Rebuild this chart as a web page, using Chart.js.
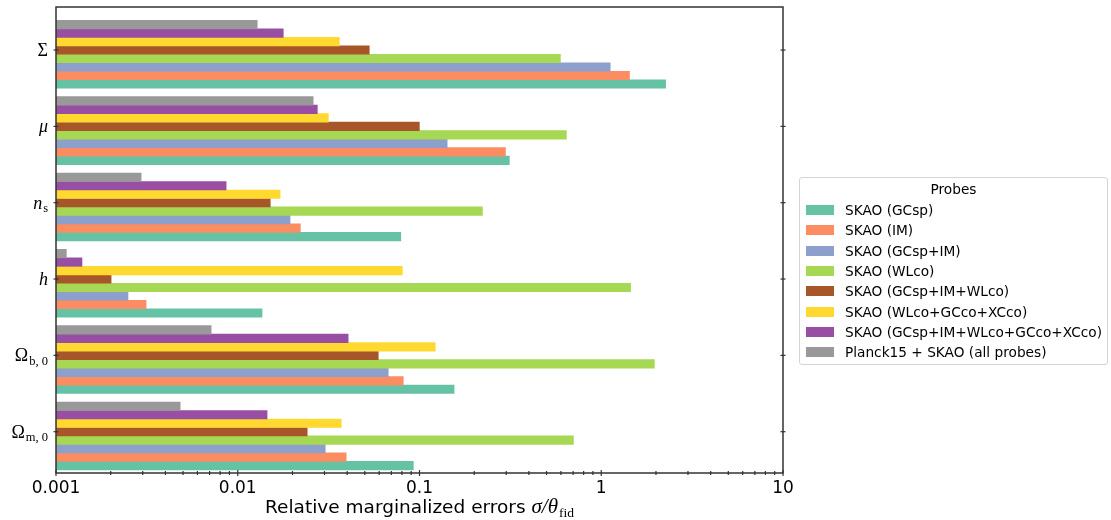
<!DOCTYPE html>
<html>
<head>
<meta charset="utf-8">
<script src="https://cdn.jsdelivr.net/npm/chart.js@4.4.1/dist/chart.umd.min.js"></script>
<style>
  html, body { margin: 0; padding: 0; background: #fff; }
  #wrap { position: relative; width: 1111px; height: 520px; }
  #legend {
    position: absolute; left: 799px; top: 177px; width: 309px; height: 188px;
    box-sizing: border-box; border: 1px solid #d4d4d4; border-radius: 3px;
    font-family: "DejaVu Sans", sans-serif; font-size: 13.7px; color: #000;
  }
  #legend .title { position: absolute; left: 0; right: 0; top: 2px; text-align: center; line-height: 18px; }
  #legend .row { position: absolute; left: 6px; height: 18px; line-height: 18px; white-space: nowrap; }
  #legend .sw { display: inline-block; width: 28px; height: 10px; vertical-align: middle; margin-right: 11px; position: relative; top: -1px; }
</style>
</head>
<body>
<div id="wrap">
  <canvas id="chart" width="1111" height="520"></canvas>
  <div id="legend"></div>
</div>
<script>
// parameters, top to bottom
const categories = ['Sigma', 'mu', 'n_s', 'h', 'Omega_b0', 'Omega_m0'];
const tickMain = ['Σ', 'μ', 'n', 'h', 'Ω', 'Ω'];
const tickSub = ['', '', 's', '', 'b, 0', 'm, 0'];

// x axis decades
const xTickValues = [0.001, 0.01, 0.1, 1, 10];
const xTickLabels = ['0.001', '0.01', '0.1', '1', '10'];

// relative marginalized errors per probe combination
const gcsp         = [2.26, 0.312, 0.0789, 0.0136, 0.155, 0.0925];
const im           = [1.43, 0.297, 0.0221, 0.00313, 0.0814, 0.0395];
const gcspIm       = [1.12, 0.142, 0.0194, 0.00249, 0.0673, 0.0303];
const wlco         = [0.596, 0.643, 0.222, 1.45, 1.96, 0.703];
const gcspImWlco   = [0.0529, 0.0998, 0.0151, 0.00201, 0.0593, 0.0241];
const wlcoGccoXcco = [0.0362, 0.0315, 0.0171, 0.0804, 0.122, 0.0371];
const allSkao      = [0.0178, 0.0274, 0.00863, 0.00139, 0.0405, 0.0145];
const planckSkao   = [0.0128, 0.026, 0.00294, 0.00114, 0.00714, 0.00482];

const probeNames = [
  'SKAO (GCsp)', 'SKAO (IM)', 'SKAO (GCsp+IM)', 'SKAO (WLco)',
  'SKAO (GCsp+IM+WLco)', 'SKAO (WLco+GCco+XCco)',
  'SKAO (GCsp+IM+WLco+GCco+XCco)', 'Planck15 + SKAO (all probes)'
];
const probeValues = [gcsp, im, gcspIm, wlco, gcspImWlco, wlcoGccoXcco, allSkao, planckSkao];
const probeColors = ['#66c2a5', '#fc8d62', '#8da0cb', '#a6d854', '#a65628', '#ffd92f', '#984ea3', '#999999'];

// first dataset is an empty slot, so each group sits like the matplotlib offsets
const datasets = [{
  label: '',
  data: categories.map((c, i) => ({ x: null, y: i })),
  backgroundColor: 'rgba(0,0,0,0)'
}];
for (let k = probeNames.length - 1; k >= 0; k--) {
  datasets.push({
    label: probeNames[k],
    data: probeValues[k].map((v, i) => ({ x: v, y: i })),
    backgroundColor: probeColors[k]
  });
}

function line(ctx, x1, y1, x2, y2) {
  ctx.beginPath(); ctx.moveTo(x1, y1); ctx.lineTo(x2, y2); ctx.stroke();
}

const framePlugin = {
  id: 'frame',
  afterDraw(chart) {
    const { ctx, chartArea: a, scales: { x, y } } = chart;
    ctx.save();
    ctx.strokeStyle = '#333';
    ctx.lineWidth = 1.5;
    ctx.strokeRect(a.left, a.top, a.right - a.left, a.bottom - a.top);

    // ticks
    ctx.lineWidth = 1.2;
    categories.forEach((c, i) => {
      const py = y.getPixelForValue(i);
      line(ctx, a.left - 2.5, py, a.left + 2.5, py);
      line(ctx, a.right - 2.5, py, a.right + 2.5, py);
    });
    xTickValues.forEach((v, i) => {
      const px = x.getPixelForValue(v);
      line(ctx, px, a.bottom - 3, px, a.bottom + 3);
      if (i < xTickValues.length - 1) {
        for (let m = 2; m <= 9; m++) {
          const pm = x.getPixelForValue(v * m);
          line(ctx, pm, a.bottom - 2, pm, a.bottom + 2);
        }
      }
    });

    // parameter labels (math style)
    ctx.fillStyle = '#000';
    ctx.textBaseline = 'alphabetic';
    ctx.textAlign = 'left';
    categories.forEach((c, i) => {
      const py = y.getPixelForValue(i);
      const main = tickMain[i];
      const italic = main.toUpperCase() !== main;
      const mainFont = (italic ? 'italic ' : '') + '18px "Liberation Serif"';
      const subFont = '12.5px "Liberation Serif"';
      ctx.font = mainFont;
      const wm = ctx.measureText(main).width;
      ctx.font = subFont;
      const ws = tickSub[i] ? ctx.measureText(tickSub[i]).width + 1 : 0;
      const x0 = 48 - wm - ws;
      ctx.font = mainFont;
      ctx.fillText(main, x0, py + 6);
      if (tickSub[i]) {
        ctx.font = subFont;
        ctx.fillText(tickSub[i], x0 + wm + 1, py + 9.5);
      }
    });

    // x axis title
    const t1 = 'Relative marginalized errors ';
    const t2 = 'σ/θ';
    const t3 = 'fid';
    const f1 = '18.5px "DejaVu Sans"';
    const f2 = 'italic 21px "Liberation Serif"';
    const f3 = '13.5px "Liberation Serif"';
    ctx.font = f1; const w1 = ctx.measureText(t1).width;
    ctx.font = f2; const w2 = ctx.measureText(t2).width;
    ctx.font = f3; const w3 = ctx.measureText(t3).width;
    let tx = (a.left + a.right) / 2 - (w1 + w2 + w3 + 1) / 2;
    const by = 513;
    ctx.font = f1; ctx.fillText(t1, tx, by); tx += w1;
    ctx.font = f2; ctx.fillText(t2, tx, by); tx += w2 + 1;
    ctx.font = f3; ctx.fillText(t3, tx, by + 3.5);
    ctx.restore();
  }
};

new Chart(document.getElementById('chart'), {
  type: 'bar',
  data: { datasets },
  options: {
    indexAxis: 'y',
    responsive: false,
    animation: false,
    layout: { padding: { left: 56, top: 7, right: 328, bottom: 0 } },
    datasets: { bar: { categoryPercentage: 1, barPercentage: 1, borderWidth: 0 } },
    plugins: { legend: { display: false }, tooltip: { enabled: false } },
    scales: {
      x: {
        type: 'logarithmic',
        min: 0.001,
        max: 10,
        grid: { display: false, drawTicks: false },
        border: { display: false },
        afterBuildTicks: (s) => { s.ticks = xTickValues.map(v => ({ value: v })); },
        afterFit: (s) => { s.height = 47; },
        ticks: {
          autoSkip: false,
          maxRotation: 0,
          padding: 5,
          color: '#000',
          font: { family: 'DejaVu Sans', size: 17 },
          callback: (v, i) => xTickLabels[i]
        }
      },
      y: {
        type: 'linear',
        reverse: true,
        bounds: 'data',
        offset: false,
        min: -0.564,
        max: 5.541,
        display: false,
        ticks: { stepSize: 1, includeBounds: false },
        afterBuildTicks: (s) => { s.ticks = categories.map((c, i) => ({ value: i })); }
      }
    }
  },
  plugins: [framePlugin]
});

// legend
const legend = document.getElementById('legend');
let html = '<div class="title">Probes</div>';
probeNames.forEach((name, k) => {
  const top = 23 + k * 20.3;
  html += '<div class="row" style="top:' + top + 'px"><span class="sw" style="background:' +
    probeColors[k] + '"></span>' + name + '</div>';
});
legend.innerHTML = html;
</script>
</body>
</html>
